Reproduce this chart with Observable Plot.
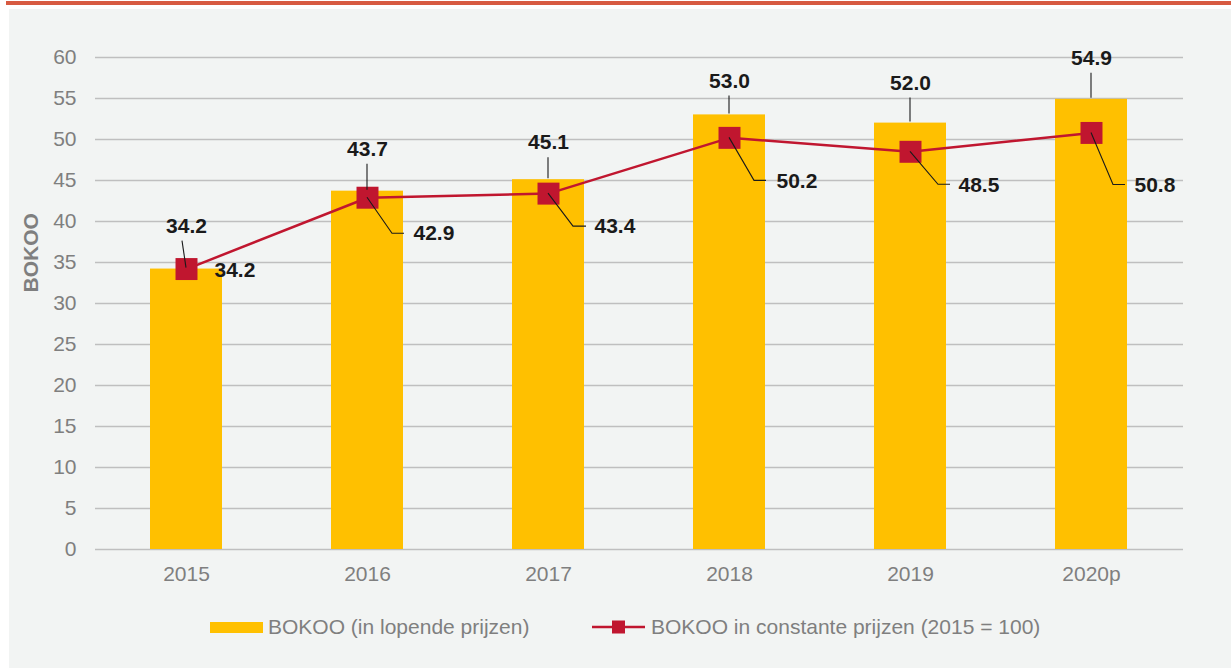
<!DOCTYPE html>
<html>
<head>
<meta charset="utf-8">
<script src="https://cdn.jsdelivr.net/npm/d3@7"></script>
<script src="https://cdn.jsdelivr.net/npm/@observablehq/plot@0.6"></script>
<style>
  html, body { margin: 0; padding: 0; background: #ffffff; }
  body { width: 1231px; height: 668px; overflow: hidden; position: relative; font-family: "Liberation Sans", Arial, sans-serif; }
  .topbar { position: absolute; left: 6px; top: 1px; width: 1225px; height: 4px; background: #d75a41; }
  .panel { position: absolute; left: 9px; top: 9px; width: 1222px; height: 659px; background: #f2f4f3; }
  #chart { position: absolute; left: 0; top: 0; }
  .legend { position: absolute; top: 603px; left: 0; width: 1222px; height: 30px; font-size: 21px; color: #7f7f7f; line-height: 30px; }
  .legend .item { position: absolute; top: 0; height: 30px; display: flex; align-items: center; white-space: nowrap; }
  .legend svg { display: block; }
</style>
</head>
<body>
<div class="topbar"></div>
<div class="panel">
  <div id="chart"></div>
  <div class="legend">
    <div class="item" style="left:201px">
      <svg width="53" height="11" style="margin-right:5px"><rect width="53" height="11" fill="#ffc000"></rect></svg>
      <span id="lg1"></span>
    </div>
    <div class="item" style="left:583px">
      <svg width="53" height="14" style="margin-right:6px"><line x1="0" x2="53" y1="7" y2="7" stroke="#c0162f" stroke-width="2.5"></line><rect x="20" y="0.5" width="13" height="13" fill="#c0162f"></rect></svg>
      <span id="lg2"></span>
    </div>
  </div>
</div>
<script>
// ---- data ----
const years = ["2015", "2016", "2017", "2018", "2019", "2020p"];
const current = [34.2, 43.7, 45.1, 53.0, 52.0, 54.9];      // BOKOO (in lopende prijzen)
const constant = [34.2, 42.9, 43.4, 50.2, 48.5, 50.8];     // BOKOO in constante prijzen (2015 = 100)
const yTicks = [0, 5, 10, 15, 20, 25, 30, 35, 40, 45, 50, 55, 60];
const seriesNames = ["BOKOO (in lopende prijzen)", "BOKOO in constante prijzen (2015 = 100)"];
const yLabel = "BOKOO";

// ---- annotation layout (pixel offsets of the data labels) ----
const barLabelDy = [-43, -42, -37, -34, -40, -41];
const lineLeadDx = [0, 25, 25, 25, 28, 22];
const lineLeadDy = [1, 36, 33, 43, 33, 52];
const lineLeadH  = [0, 12, 13, 12, 12, 12];
const lineTextDx = [28, 46, 46, 47, 48, 43];

document.getElementById("lg1").textContent = seriesNames[0];
document.getElementById("lg2").textContent = seriesNames[1];

const idx = years.map((_, i) => i);
const RED = "#c0162f";
const INK = "#1a1a1a";

function leaders(index, scales) {
  const x = scales.x, y = scales.y;
  const bw = typeof x.bandwidth === "function" ? x.bandwidth() : (x.bandwidth || 0);
  const g = d3.create("svg:g").attr("stroke", INK).attr("fill", "none").attr("stroke-width", 1.1);
  idx.forEach(i => {
    const cx = x(years[i]) + bw / 2;
    const by = y(current[i]);
    g.append("path").attr("d", `M${cx - (i === 0 ? 4 : 0)},${by + barLabelDy[i] + 15}L${cx},${by - 1}`);
    if (lineLeadH[i] > 0) {
      const ly = y(constant[i]);
      g.append("path").attr("d", `M${cx},${ly}l${lineLeadDx[i]},${lineLeadDy[i]}h${lineLeadH[i]}`);
    }
  });
  return g.node();
}

const marks = [
  Plot.ruleY(yTicks, {stroke: "#bfbfbf", strokeWidth: 1.6}),
  Plot.barY(idx, {x: i => years[i], y: i => current[i], fill: "#ffc000"}),
  Plot.line(idx, {x: i => years[i], y: i => constant[i], stroke: RED, strokeWidth: 2.5}),
  Plot.dot(idx, {x: i => years[i], y: i => constant[i], symbol: "square", r: 12.4, fill: RED, stroke: "none"}),
  leaders,
  ...idx.map(i => Plot.text([i], {
    x: i => years[i], y: i => current[i], text: i => current[i].toFixed(1),
    dy: barLabelDy[i], fontWeight: "bold", fontSize: 21, fill: INK
  })),
  ...idx.map(i => Plot.text([i], {
    x: i => years[i], y: i => constant[i], text: i => constant[i].toFixed(1),
    dx: lineTextDx[i], dy: lineLeadDy[i], textAnchor: "start", fontWeight: "bold", fontSize: 21, fill: INK
  })),
  Plot.text([yLabel], {text: d => d, frameAnchor: "left", rotate: -90, dx: -64, dy: -11,
    fontWeight: "bold", fontSize: 21, fill: "#7f7f7f"})
];

const chart = Plot.plot({
  width: 1222,
  height: 591,
  marginLeft: 86,
  marginRight: 48,
  marginTop: 48,
  marginBottom: 51,
  style: {fontFamily: "'Liberation Sans', Arial, sans-serif", fontSize: "21px", color: "#7f7f7f", background: "transparent", overflow: "visible"},
  x: {domain: years, paddingInner: 0.6, paddingOuter: 0.3, tickSize: 0, tickPadding: 17, label: null},
  y: {domain: [0, 60], ticks: yTicks, tickSize: 0, tickPadding: 19, label: null},
  marks
});
document.getElementById("chart").appendChild(chart);
</script>
</body>
</html>
